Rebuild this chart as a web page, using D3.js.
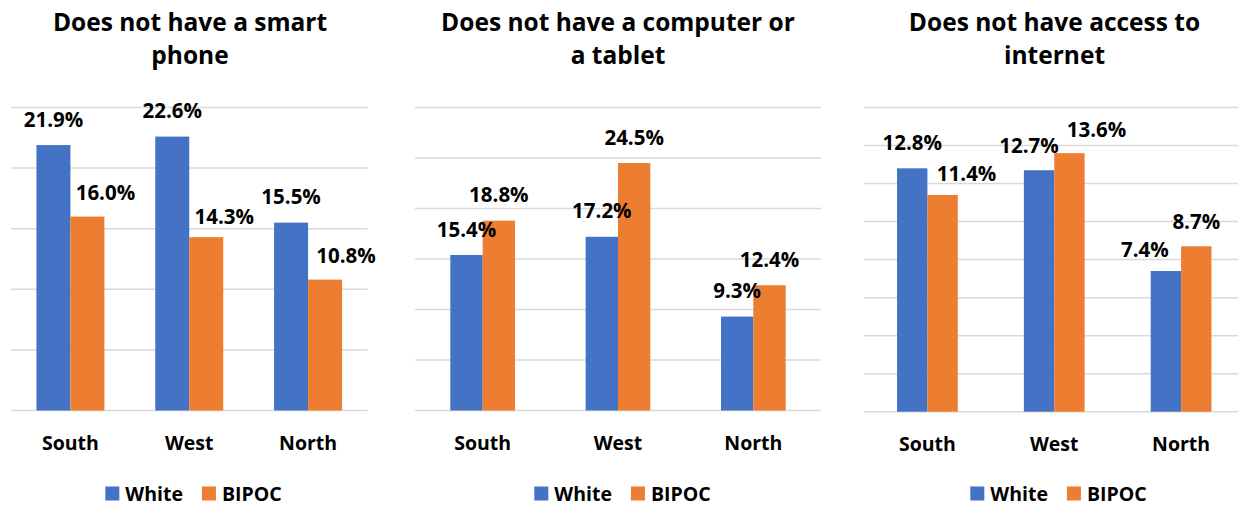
<!DOCTYPE html>
<html>
<head>
<meta charset="utf-8">
<script src="https://cdn.jsdelivr.net/npm/d3@7"></script>
<style>
  html, body { margin: 0; padding: 0; background: #fff; }
  svg { display: block; }
  text { font-family: "Open Sans", Lato, "Liberation Sans", sans-serif; font-weight: bold; fill: #000; }
</style>
</head>
<body>
<div id="chart"></div>
<script>
// ---- data ----
const categories = ["South", "West", "North"];
const seriesNames = ["White", "BIPOC"];
const titles = [
  ["Does not have a smart", "phone"],
  ["Does not have a computer or", "a tablet"],
  ["Does not have access to", "internet"]
];
const phoneWhite = [21.9, 22.6, 15.5];
const phoneBipoc = [16.0, 14.3, 10.8];
const computerWhite = [15.4, 17.2, 9.3];
const computerBipoc = [18.8, 24.5, 12.4];
const internetWhite = [12.8, 12.7, 7.4];
const internetBipoc = [11.4, 13.6, 8.7];
const yMaxes = [25, 30, 16];
const tickSteps = [5, 5, 2];

// hand-moved data labels in the original (dx, dy in px, per series)
const labelNudges = [
  { White: [[0, 0], [0, 0], [0, 0]], BIPOC: [[18, 2], [18, 5], [21, 2]] },
  { White: [[0, 0], [0, 0], [0, 0]], BIPOC: [[0, 0], [0, 0], [0, 0]] },
  { White: [[0, 0], [-10, 1], [-21, 4]], BIPOC: [[24, 4], [27, 2], [0, 1]] }
];

const colors = { White: "#4472C4", BIPOC: "#ED7D31" };

const W = 1238, H = 506;
const svg = d3.select("#chart").append("svg").attr("width", W).attr("height", H);

// layout of each panel: plot area + bar gap
const panels = [
  { left: 11, right: 367.5, top: 107.5, bottom: 410.5, gap: 0.428, titleX: 190, legendX: 193.5, white: phoneWhite, bipoc: phoneBipoc },
  { left: 415, right: 821, top: 107.5, bottom: 410.5, gap: 0.522, titleX: 618, legendX: 622.5, white: computerWhite, bipoc: computerBipoc },
  { left: 864, right: 1244.5, top: 107.5, bottom: 411.7, gap: 0.521, titleX: 1054.5, legendX: 1058.5, white: internetWhite, bipoc: internetBipoc }
];

panels.forEach((p, pi) => {
  const g = svg.append("g");
  const rows = categories.map((c, i) => ({ cat: c, White: p.white[i], BIPOC: p.bipoc[i] }));

  const x0 = d3.scaleBand().domain(categories).range([p.left, p.right])
    .paddingInner(p.gap).paddingOuter(p.gap / 2);
  const x1 = d3.scaleBand().domain(seriesNames).range([0, x0.bandwidth()]);
  const y = d3.scaleLinear().domain([0, yMaxes[pi]]).range([p.bottom, p.top]);

  // gridlines
  g.append("g").selectAll("line")
    .data(d3.range(0, yMaxes[pi] + 0.001, tickSteps[pi]))
    .join("line")
    .attr("x1", p.left).attr("x2", Math.min(p.right, W))
    .attr("y1", d => y(d)).attr("y2", d => y(d))
    .attr("stroke", "#d9d9d9").attr("stroke-width", 1.5);

  // title
  g.append("text")
    .attr("y", 31)
    .attr("text-anchor", "middle")
    .style("font-size", "24.5px")
    .selectAll("tspan")
    .data(titles[pi])
    .join("tspan")
    .attr("x", p.titleX)
    .attr("dy", (d, i) => i === 0 ? 0 : 32.5)
    .text(d => d);

  // bars
  const grp = g.selectAll(".grp")
    .data(rows)
    .join("g")
    .attr("class", "grp")
    .attr("transform", d => `translate(${x0(d.cat)},0)`);

  grp.selectAll("rect")
    .data(d => seriesNames.map(s => ({ s, v: d[s] })))
    .join("rect")
    .attr("x", d => x1(d.s))
    .attr("width", x1.bandwidth())
    .attr("y", d => y(d.v))
    .attr("height", d => y(0) - y(d.v))
    .attr("fill", d => colors[d.s]);

  // data labels
  grp.selectAll("text.val")
    .data((d, ci) => seriesNames.map(s => ({ s, v: d[s], n: labelNudges[pi][s][ci] })))
    .join("text")
    .attr("class", "val")
    .attr("x", d => x1(d.s) + x1.bandwidth() / 2 + d.n[0])
    .attr("y", d => y(d.v) - 18.3 + d.n[1])
    .attr("text-anchor", "middle")
    .style("font-size", "20.5px")
    .text(d => d.v.toFixed(1) + "%");

  // category labels
  g.selectAll("text.cat")
    .data(categories)
    .join("text")
    .attr("class", "cat")
    .attr("x", d => x0(d) + x0.bandwidth() / 2)
    .attr("y", p.bottom + 39)
    .attr("text-anchor", "middle")
    .style("font-size", "19.5px")
    .text(d => d);

  // legend
  const lg = g.append("g").attr("class", "legend");
  const items = lg.selectAll("g").data(seriesNames).join("g");
  items.append("rect")
    .attr("width", 14).attr("height", 14)
    .attr("y", -14)
    .attr("fill", d => colors[d]);
  items.append("text")
    .attr("x", 20).attr("y", 0)
    .style("font-size", "19.5px")
    .text(d => d);
  let off = 0;
  items.each(function() {
    d3.select(this).attr("transform", `translate(${off},0)`);
    off += this.getBBox().width + 19;
  });
  const lw = off - 19;
  lg.attr("transform", `translate(${p.legendX - lw / 2},500.5)`);
});
</script>
</body>
</html>
